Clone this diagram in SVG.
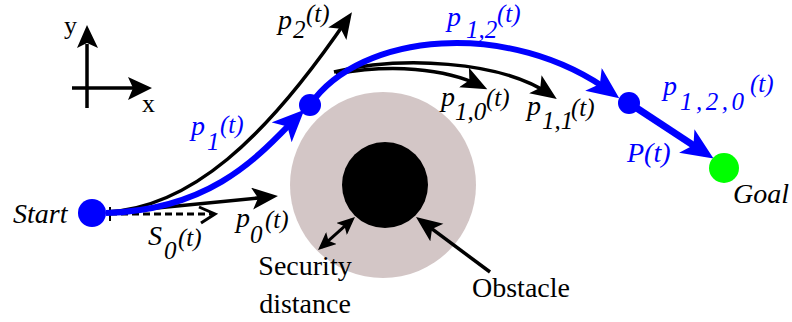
<svg xmlns="http://www.w3.org/2000/svg" width="792" height="322" viewBox="0 0 792 322">
<defs>
<style>
.t{font-family:"Liberation Serif","Times New Roman",serif;fill:#000}
.i{font-style:italic}
.b{fill:#0000ff}
.p{font-size:28px}
.s{font-size:25px}
.lb{font-size:28px}
.kl{fill:none;stroke:#000;stroke-width:3.5}
.bl{fill:none;stroke:#0000ff;stroke-width:6}
</style>
<marker id="ab" markerUnits="userSpaceOnUse" markerWidth="34" markerHeight="30" refX="23" refY="14" orient="auto"><path d="M0,0 L32,14 L0,28 L8,14 Z" fill="#0000ff"/></marker>
<marker id="ak" markerUnits="userSpaceOnUse" markerWidth="28" markerHeight="24" refX="19" refY="11" orient="auto"><path d="M0,0 L26,11 L0,22 L6,11 Z" fill="#000"/></marker>
<marker id="as" markerUnits="userSpaceOnUse" markerWidth="20" markerHeight="16" refX="14" refY="8" orient="auto-start-reverse"><path d="M0,0 L18,8 L0,16 L4,8 Z" fill="#000"/></marker>
</defs>
<rect width="792" height="322" fill="#fff"/>

<g id="obstacle">
<circle cx="383" cy="185" r="93" fill="#d3c6c6"/>
<circle cx="385" cy="185" r="43" fill="#000"/>
</g>

<g id="axes">
<line x1="87" y1="108" x2="87" y2="44" stroke="#000" stroke-width="3.5"/>
<polygon points="87,25 77,48 87,43 98,48" fill="#000"/>
<line x1="72" y1="88" x2="134" y2="88" stroke="#000" stroke-width="3.5"/>
<polygon points="152,88 128,77 133,88 128,100" fill="#000"/>
<text class="t" x="64" y="34" font-size="26">y</text>
<text class="t" x="142" y="112" font-size="26">x</text>
</g>

<g id="connectors">
<path class="kl" d="M106,212 C 190,208 265,140 348,18" marker-end="url(#ak)"/>
<line class="kl" x1="106" y1="213" x2="271" y2="196.7" marker-end="url(#ak)"/>
<line x1="110" y1="214" x2="212" y2="214" stroke="#000" stroke-width="3" stroke-dasharray="7,4"/>
<line x1="110" y1="207" x2="110" y2="221" stroke="#000" stroke-width="2"/>
<polyline points="199,207 215,214 201,223" fill="none" stroke="#000" stroke-width="3"/>
<path class="kl" d="M336,74 C 390,64 445,68 481,86" marker-end="url(#ak)"/>
<path class="kl" d="M334,72 C 400,56 500,60 551,95" marker-end="url(#ak)"/>
<path class="bl" d="M106,213 C 215,210 262,152 298,116" marker-end="url(#ab)"/>
<path class="bl" d="M310,105 C 360,32 510,18 612,93" marker-end="url(#ab)"/>
<line x1="629" y1="103" x2="706" y2="153.6" stroke="#0000ff" stroke-width="7" marker-end="url(#ab)"/>
<line class="kl" x1="490" y1="272" x2="421.6" y2="221.2" marker-end="url(#ak)"/>
<line x1="321" y1="247.3" x2="352" y2="219.7" stroke="#000" stroke-width="3" marker-start="url(#as)" marker-end="url(#as)"/>
</g>

<g id="start">
<circle cx="92" cy="213" r="14" fill="#0000ff"/>
<text class="t i lb" x="13" y="223">Start</text>
</g>
<g id="waypoint1"><circle cx="310" cy="105" r="11" fill="#0000ff"/></g>
<g id="waypoint2"><circle cx="629" cy="103" r="11" fill="#0000ff"/></g>
<g id="goal">
<circle cx="724" cy="168" r="15" fill="#00ff00"/>
<text class="t i lb" x="733" y="203">Goal</text>
</g>

<g id="labels">
<text class="t i"><tspan class="p" x="278" y="29">p</tspan><tspan class="s" x="293" y="38">2</tspan><tspan class="s" x="306" y="22">(t)</tspan></text>
<text class="t i b"><tspan class="p" x="191" y="135">p</tspan><tspan class="s" x="207" y="150">1</tspan><tspan class="s" x="220" y="133">(t)</tspan></text>
<text class="t i b"><tspan class="p" x="447" y="26">p</tspan><tspan class="s" x="466" y="38">1,2</tspan><tspan class="s" x="497" y="22">(t)</tspan></text>
<text class="t i"><tspan class="p" x="441" y="106">p</tspan><tspan class="s" x="455" y="120">1,0</tspan><tspan class="s" x="486" y="106">(t)</tspan></text>
<text class="t i"><tspan class="p" x="527" y="115">p</tspan><tspan class="s" x="542" y="129">1,1</tspan><tspan class="s" x="571" y="116">(t)</tspan></text>
<text class="t i b"><tspan class="p" x="663" y="95">p</tspan><tspan class="s" x="680" y="110" textLength="64" lengthAdjust="spacing">1,2,0</tspan><tspan class="s" x="750" y="92">(t)</tspan></text>
<text class="t i b p" x="627" y="162">P(t)</text>
<text class="t i"><tspan class="p" x="236" y="227">p</tspan><tspan class="s" x="250" y="243">0</tspan><tspan class="s" x="265" y="228">(t)</tspan></text>
<text class="t i"><tspan class="p" x="148" y="245">S</tspan><tspan class="s" x="164" y="259">0</tspan><tspan class="s" x="178" y="246">(t)</tspan></text>
<text class="t lb" x="305" y="275" text-anchor="middle">Security</text>
<text class="t lb" x="305" y="313" text-anchor="middle">distance</text>
<text class="t lb" x="472" y="297">Obstacle</text>
</g>
</svg>
